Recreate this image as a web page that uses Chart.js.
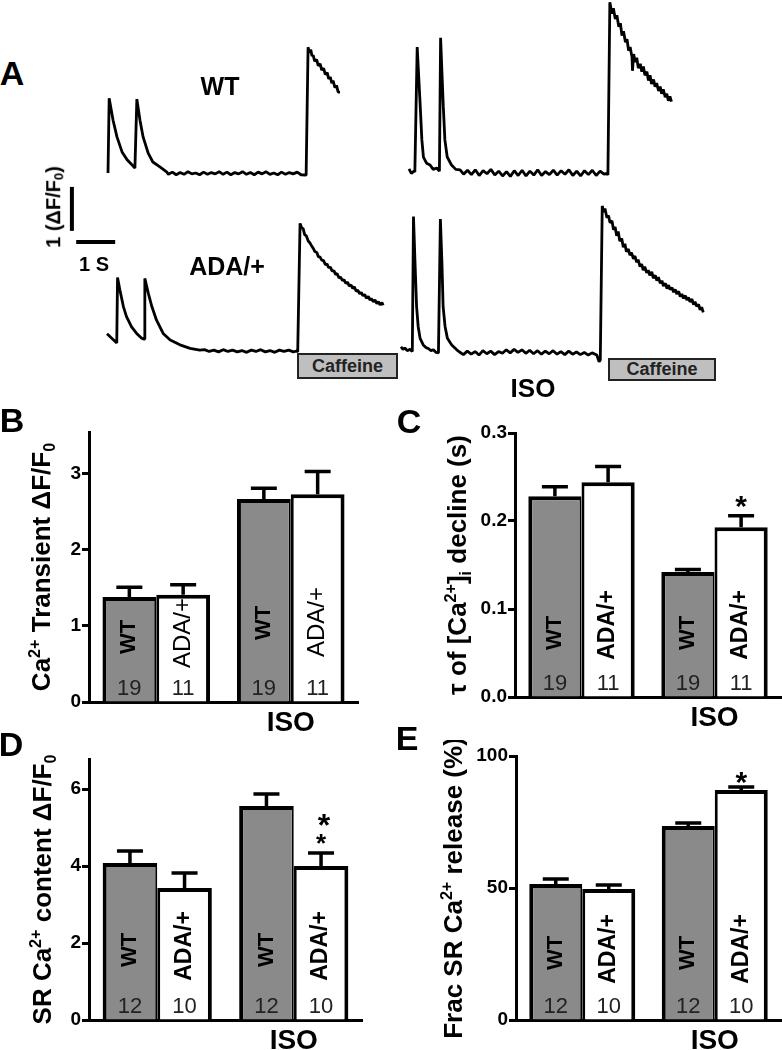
<!DOCTYPE html>
<html lang="en">
<head>
<meta charset="UTF-8">
<title>Ca2+ transients WT vs ADA/+</title>
<script src="https://cdn.jsdelivr.net/npm/chart.js"></script>
<style>
  body { margin: 0; background: #fff; }
  #page { position: relative; width: 782px; height: 1050px; overflow: hidden; font-family: "Liberation Sans", Arial, sans-serif; }
  canvas { position: absolute; }
  .t { position: absolute; transform: translate(-50%, -50%); white-space: nowrap; font-weight: bold; line-height: 1; color: #000; }
  .t sub { font-size: 0.65em; vertical-align: -0.2em; }
  .letter { font-size: 34px; }
  .caff { position: absolute; background: #bfbfbf; border: 2px solid #222; box-sizing: border-box; font-weight: bold; font-size: 18px; color: #222; text-align: center; }
</style>
</head>
<body>
<div id="page">
  <canvas id="trWT" width="260" height="160" style="left:95px;top:30px"></canvas>
  <canvas id="trWTiso" width="300" height="190" style="left:395px;top:0px"></canvas>
  <canvas id="trADA" width="335" height="185" style="left:60px;top:180px"></canvas>
  <canvas id="trADAiso" width="320" height="180" style="left:395px;top:195px"></canvas>

  <canvas id="panelB" width="372" height="330" style="left:0px;top:415px"></canvas>
  <canvas id="panelC" width="392" height="330" style="left:390px;top:415px"></canvas>
  <canvas id="panelD" width="372" height="310" style="left:0px;top:740px"></canvas>
  <canvas id="panelE" width="392" height="310" style="left:390px;top:740px"></canvas>

  <div class="t letter" style="left:12px;top:73px">A</div>
  <div class="t letter" style="left:12px;top:420px">B</div>
  <div class="t letter" style="left:409px;top:421px">C</div>
  <div class="t letter" style="left:11px;top:744px">D</div>
  <div class="t letter" style="left:407px;top:738px">E</div>

  <div class="t" style="left:220px;top:86px;font-size:25px">WT</div>
  <div class="t" style="left:227px;top:266px;font-size:25px">ADA/+</div>
  <div class="t" style="left:533px;top:388px;font-size:26px">ISO</div>
  <div class="t" style="left:94px;top:264px;font-size:20px">1 S</div>
  <div class="t" style="left:54px;top:207px;font-size:20px;transform:translate(-50%,-50%) rotate(-90deg)">1 (&Delta;F/F<sub>0</sub>)</div>

  <div class="caff" style="left:297px;top:353px;width:101px;height:26px;line-height:22px">Caffeine</div>
  <div class="caff" style="left:608px;top:358px;width:108px;height:23px;line-height:19px">Caffeine</div>
</div>

<script>
// ---- panel A traces: [time (s), deltaF/F0] ----
const wtTrace = [[0,0],[0.03,1.70],[0.13,1.20],[0.23,0.82],[0.36,0.48],[0.49,0.30],[0.62,0.18],[0.69,0.11],
  [0.74,1.68],[0.82,1.20],[0.90,0.82],[1.03,0.45],[1.15,0.25],[1.33,0.14],[1.51,0.02],
  [1.55,-0.03],[1.65,0.02],[1.75,-0.04],[1.85,0.01],[1.95,-0.03],[2.05,0.03],[2.15,-0.02],[2.25,0.00],[2.35,-0.04],[2.45,0.02],
  [2.55,-0.03],[2.65,0.01],[2.75,-0.02],[2.85,0.03],[2.95,-0.03],[3.05,0.02],[3.15,-0.04],[3.25,0.01],[3.35,-0.02],[3.45,0.03],
  [3.55,-0.03],[3.65,0.01],[3.75,-0.04],[3.85,0.02],[3.95,-0.02],[4.05,0.03],[4.15,-0.03],[4.25,0.00],[4.35,-0.04],[4.45,0.02],
  [4.55,-0.03],[4.65,0.01],[4.75,-0.02],[4.85,0.02],[4.95,-0.04],[5.08,-0.05],
  [5.13,2.86],[5.16,2.74],[5.2,2.80],[5.23,2.66],[5.26,2.68],[5.3,2.54],[5.35,2.58],[5.39,2.44],[5.44,2.48],[5.48,2.34],
  [5.53,2.38],[5.57,2.24],[5.62,2.28],[5.66,2.14],[5.7,2.18],[5.74,2.04],[5.77,2.1],[5.82,1.94],[5.86,1.99],[5.9,1.84],[5.95,1.84]];

const wtIsoTrace = [[0,0.07],[0.06,-0.03],[0.13,0.02],[0.15,0.00],[0.21,2.84],[0.28,1.64],[0.33,0.73],[0.37,0.34],[0.45,0.20],
  [0.54,0.16],[0.62,0.06],[0.71,0.09],[0.78,0.02],[0.81,3.05],[0.88,1.48],[0.92,0.73],[0.98,0.34],[1.09,0.16],[1.2,0.06],
  [1.31,0.05],[1.4,-0.05],[1.5,0.04],[1.6,-0.06],[1.7,0.05],[1.8,-0.08],[1.9,0.03],[2.0,-0.04],[2.1,0.06],[2.2,-0.07],[2.3,0.02],
  [2.4,-0.09],[2.5,0.01],[2.6,-0.1],[2.7,0.03],[2.8,-0.08],[2.9,0.04],[3.0,-0.09],[3.1,0.02],[3.2,-0.07],[3.3,0.05],[3.4,-0.08],
  [3.5,0.01],[3.6,-0.06],[3.7,0.04],[3.8,-0.07],[3.9,0.03],[4.0,-0.05],[4.1,0.05],[4.2,-0.08],[4.3,0.02],[4.4,-0.09],[4.5,0.03],
  [4.6,-0.06],[4.7,0.04],[4.8,-0.08],[4.9,0.02],[5.0,-0.05],[5.08,-0.03],[5.10,-0.07],
  [5.15,3.86],[5.2,3.6],[5.24,3.72],[5.29,3.48],[5.33,3.56],[5.38,3.3],[5.42,3.38],[5.46,3.1],[5.5,3.2],[5.55,2.95],[5.59,3.02],
  [5.63,2.76],[5.67,2.84],[5.72,2.6],[5.73,2.3],[5.76,2.68],[5.8,2.5],[5.84,2.6],[5.88,2.36],[5.93,2.46],[5.97,2.28],[6.01,2.4],
  [6.05,2.2],[6.1,2.28],[6.14,2.08],[6.18,2.2],[6.22,2.0],[6.27,2.1],[6.31,1.94],[6.35,2.02],[6.4,1.84],[6.44,1.94],[6.48,1.78],
  [6.52,1.88],[6.57,1.7],[6.61,1.78],[6.65,1.62],[6.69,1.72],[6.73,1.6]];

const adaTrace = [[0,0.39],[0.25,0.18],[0.27,1.67],[0.33,1.39],[0.42,1.01],[0.50,0.78],[0.63,0.55],[0.76,0.40],[0.89,0.29],
  [0.95,0.27],[0.97,1.65],[1.06,1.31],[1.15,1.01],[1.27,0.70],[1.44,0.40],[1.62,0.25],[1.87,0.14],[2.13,0.06],[2.38,0.02],
  [2.5,0.03],[2.62,-0.01],[2.74,0.02],[2.86,-0.02],[2.98,0.03],[3.1,-0.01],[3.22,0.02],[3.34,-0.02],[3.46,0.01],[3.58,-0.03],
  [3.7,0.02],[3.82,-0.01],[3.94,0.03],[4.06,-0.02],[4.18,0.01],[4.3,-0.03],[4.42,0.02],[4.54,-0.01],[4.66,0.02],[4.78,-0.02],
  [4.86,0.00],[4.89,-0.02],
  [4.95,2.90],[4.99,2.80],[5.03,2.78],[5.07,2.64],[5.11,2.62],[5.16,2.50],[5.2,2.46],[5.24,2.40],[5.29,2.33],[5.33,2.26],
  [5.38,2.24],[5.42,2.14],[5.46,2.14],[5.51,2.06],[5.55,2.06],[5.6,1.96],[5.64,1.98],[5.68,1.90],[5.73,1.90],[5.77,1.82],
  [5.82,1.82],[5.86,1.74],[5.9,1.76],[5.95,1.66],[5.99,1.68],[6.04,1.6],[6.08,1.62],[6.12,1.54],[6.17,1.56],[6.21,1.48],
  [6.26,1.50],[6.3,1.42],[6.34,1.46],[6.39,1.36],[6.43,1.38],[6.48,1.30],[6.52,1.33],[6.56,1.26],[6.61,1.28],[6.65,1.20],
  [6.7,1.24],[6.74,1.16],[6.78,1.19],[6.83,1.12],[6.87,1.16],[6.92,1.08],[6.96,1.12],[7.0,1.05],[7.05,1.10],[7.08,1.04]];

const adaIsoTrace = [[0,0.12],[0.05,0.06],[0.10,0.09],[0.16,0.03],[0.23,0.06],[0.29,0.01],[0.32,3.08],[0.36,2.02],[0.40,1.03],
  [0.44,0.58],[0.49,0.31],[0.57,0.16],[0.64,0.10],[0.70,0.08],[0.77,0.03],[0.83,0.05],[0.90,-0.01],[0.96,-0.02],[1.01,3.02],
  [1.05,2.02],[1.08,1.03],[1.13,0.58],[1.19,0.31],[1.30,0.16],[1.43,0.05],[1.50,0.00],
  [1.6,-0.06],[1.7,0.02],[1.8,-0.05],[1.9,0.01],[2.0,-0.07],[2.1,0.03],[2.2,-0.04],[2.3,0.02],[2.4,-0.06],[2.5,0.01],
  [2.6,-0.03],[2.7,0.05],[2.8,-0.02],[2.9,0.06],[3.0,-0.01],[3.1,0.05],[3.2,-0.03],[3.3,0.04],[3.4,-0.04],[3.5,0.03],
  [3.6,-0.05],[3.7,0.02],[3.8,-0.04],[3.9,0.03],[4.0,-0.05],[4.1,0.01],[4.2,-0.06],[4.3,0.02],[4.4,-0.05],[4.5,0.00],
  [4.6,-0.06],[4.7,-0.01],[4.8,-0.07],[4.9,-0.02],[5.02,-0.07],[5.08,-0.22],[5.11,-0.18],
  [5.16,3.32],[5.2,3.18],[5.23,3.26],[5.28,3.05],[5.32,3.1],[5.36,2.94],[5.41,2.98],[5.45,2.78],[5.49,2.84],[5.53,2.64],
  [5.57,2.74],[5.61,2.52],[5.66,2.58],[5.7,2.38],[5.74,2.46],[5.78,2.28],[5.83,2.34],[5.87,2.2],[5.91,2.26],[5.96,2.12],
  [6.0,2.18],[6.04,2.04],[6.08,2.1],[6.13,1.94],[6.17,2.0],[6.21,1.86],[6.25,1.94],[6.3,1.8],[6.34,1.86],[6.38,1.74],
  [6.43,1.82],[6.47,1.68],[6.52,1.74],[6.56,1.62],[6.6,1.7],[6.65,1.56],[6.69,1.62],[6.73,1.5],[6.78,1.56],[6.82,1.44],
  [6.86,1.52],[6.9,1.42],[6.95,1.46],[6.99,1.36],[7.03,1.42],[7.07,1.32],[7.12,1.38],[7.16,1.26],[7.2,1.32],[7.24,1.22],
  [7.29,1.28],[7.33,1.18],[7.37,1.24],[7.41,1.14],[7.46,1.2],[7.5,1.08],[7.54,1.14],[7.58,1.04],[7.63,1.08],[7.67,0.96],
  [7.71,1.02],[7.75,0.9]];

// scale bar: 1 deltaF/F0 vertical, 1 s horizontal
const scaleBarV = [[-0.9, 2.73], [-0.9, 3.73]];
const scaleBarH = [[-0.79, 2.48], [0.21, 2.48]];

// ---- panels B-E ----
const groups = ['', 'ISO'];

const transientWT = [1.38, 2.67];
const transientWTsem = [0.13, 0.14];
const transientADA = [1.41, 2.73];
const transientADAsem = [0.13, 0.30];
const cellsBC = [19, 11];

const tauWT = [0.228, 0.142];
const tauWTsem = [0.011, 0.003];
const tauADA = [0.244, 0.193];
const tauADAsem = [0.018, 0.013];

const srWT = [4.08, 5.56];
const srWTsem = [0.31, 0.31];
const srADA = [3.43, 4.00];
const srADAsem = [0.39, 0.34];
const cellsDE = [12, 10];

const fracWT = [51.5, 73.5];
const fracWTsem = [1.9, 1.1];
const fracADA = [49.6, 87.1];
const fracADAsem = [1.5, 1.2];

const ticksB = [0, 1, 2, 3];
const ticksC = [0, 0.1, 0.2, 0.3];
const ticksD = [0, 2, 4, 6];
const ticksE = [0, 50, 100];

const FONT = '"Liberation Sans", Arial, sans-serif';
Chart.defaults.font.family = FONT;
Chart.defaults.color = '#000';

const PX_S = 39;  // pixels per second
const PX_F = 44;  // pixels per deltaF/F0 unit

function traceChart(id, x0, y0, sets) {
  const cv = document.getElementById(id);
  new Chart(cv, {
    type: 'line',
    data: {
      datasets: sets.map(s => ({
        data: s.pts.map(p => ({ x: p[0], y: p[1] })),
        borderColor: '#000', borderWidth: s.w, pointRadius: 0, tension: 0,
        fill: false, clip: false, borderJoinStyle: 'bevel'
      }))
    },
    options: {
      responsive: false, animation: false, events: [],
      layout: { padding: 0 },
      plugins: { legend: { display: false }, tooltip: { enabled: false } },
      scales: {
        x: { type: 'linear', display: false, min: -x0 / PX_S, max: (cv.width - x0) / PX_S },
        y: { type: 'linear', display: false, min: -(cv.height - y0) / PX_F, max: y0 / PX_F }
      }
    }
  });
}

traceChart('trWT', 13, 143, [{ pts: wtTrace, w: 2.8 }]);
traceChart('trWTiso', 14, 172, [{ pts: wtIsoTrace, w: 2.8 }]);
traceChart('trADA', 47, 171, [{ pts: adaTrace, w: 2.8 }, { pts: scaleBarV, w: 4 }, { pts: scaleBarH, w: 4 }]);
traceChart('trADAiso', 6, 157, [{ pts: adaIsoTrace, w: 2.8 }]);

// axis title with super/subscripts, rotated to read bottom to top
function richTitle(ctx, parts, size, x, cy) {
  ctx.save();
  ctx.translate(x, cy);
  ctx.rotate(-Math.PI / 2);
  ctx.fillStyle = '#000';
  ctx.textBaseline = 'alphabetic';
  ctx.textAlign = 'left';
  let total = 0;
  const runs = parts.map(p => {
    const s = p[1] ? size * 0.62 : size;
    ctx.font = 'bold ' + s + 'px ' + FONT;
    const w = ctx.measureText(p[0]).width;
    total += w;
    return { text: p[0], s, w, dy: p[1] === 'sup' ? -size * 0.4 : p[1] === 'sub' ? size * 0.18 : 0 };
  });
  let cx = -total / 2;
  runs.forEach(r => {
    ctx.font = 'bold ' + r.s + 'px ' + FONT;
    ctx.fillText(r.text, cx, r.dy);
    cx += r.w;
  });
  ctx.restore();
}

function makeDeco(p) {
  return {
    id: 'deco',
    afterDraw(chart) {
      const ctx = chart.ctx, y = chart.scales.y, area = chart.chartArea;
      const base = y.getPixelForValue(0);
      const sets = [[p.wt, p.wtSem, 'WT', p.wtFont], [p.ada, p.adaSem, 'ADA/+', p.adaFont]];
      sets.forEach(([vals, sems, name, font], di) => {
        chart.getDatasetMeta(di).data.forEach((bar, j) => {
          const top = y.getPixelForValue(vals[j]);
          const eTop = y.getPixelForValue(vals[j] + sems[j]);
          ctx.save();
          ctx.strokeStyle = '#000';
          ctx.lineWidth = 3.5;
          ctx.beginPath();
          ctx.moveTo(bar.x, top);
          ctx.lineTo(bar.x, eTop);
          ctx.moveTo(bar.x - 13, eTop);
          ctx.lineTo(bar.x + 13, eTop);
          ctx.stroke();

          ctx.fillStyle = '#000';
          ctx.textAlign = 'center';
          ctx.textBaseline = 'middle';
          ctx.save();
          ctx.translate(bar.x, base - p.rise[di][j]);
          ctx.rotate(-Math.PI / 2);
          ctx.font = font;
          ctx.fillText(name, 0, 0);
          ctx.restore();

          ctx.fillStyle = '#222';
          ctx.font = '22px ' + FONT;
          ctx.fillText(String(p.n[di]), bar.x, base - 13);
          ctx.restore();
        });
      });

      // significance stars over ADA/+ ISO
      (p.stars || []).forEach(s => {
        const bar = chart.getDatasetMeta(1).data[1];
        const eTop = y.getPixelForValue(p.ada[1] + p.adaSem[1]);
        ctx.save();
        ctx.fillStyle = '#000';
        ctx.font = 'bold ' + s.size + 'px ' + FONT;
        ctx.textAlign = 'center';
        ctx.textBaseline = 'alphabetic';
        const m = ctx.measureText('*');
        const baseLine = eTop - s.off + (m.actualBoundingBoxAscent - m.actualBoundingBoxDescent) / 2;
        ctx.fillText('*', bar.x + (s.dx || 0), baseLine);
        ctx.restore();
      });

      richTitle(ctx, p.title, 26, p.titleX, (area.top + area.bottom) / 2);
    }
  };
}

function barPanel(id, p) {
  const cv = document.getElementById(id);
  new Chart(cv, {
    type: 'bar',
    data: {
      labels: groups,
      datasets: [
        { label: 'WT', data: p.wt, backgroundColor: '#8a8a8a', borderColor: '#000',
          borderWidth: { top: 4, left: 4, right: 2, bottom: 0 }, borderSkipped: 'start',
          categoryPercentage: 0.8, barPercentage: 1 },
        { label: 'ADA/+', data: p.ada, backgroundColor: '#fff', borderColor: '#000',
          borderWidth: { top: 4, left: 3, right: 4, bottom: 0 }, borderSkipped: 'start',
          categoryPercentage: 0.8, barPercentage: 1 }
      ]
    },
    options: {
      responsive: false, animation: false, events: [],
      layout: { padding: { top: p.area.top, right: cv.width - p.area.right, left: 0, bottom: 0 } },
      plugins: { legend: { display: false }, tooltip: { enabled: false } },
      scales: {
        x: {
          z: 1,
          grid: { display: false, drawTicks: false },
          border: { display: true, color: '#000', width: 3 },
          ticks: { font: { size: 28, weight: 'bold' }, color: '#000', padding: 4 },
          afterFit: s => { s.height = cv.height - p.area.bottom; }
        },
        y: {
          z: 1, min: 0, max: p.max,
          grid: { display: true, drawOnChartArea: false, drawTicks: true, tickLength: 7, tickWidth: 3, tickColor: '#000' },
          border: { display: true, color: '#000', width: 3 },
          ticks: { font: { size: 19, weight: 'bold' }, color: '#000', padding: 1,
                   callback: v => Number(v).toFixed(p.dec) },
          afterBuildTicks: s => { s.ticks = p.ticks.map(v => ({ value: v })); },
          afterFit: s => { s.width = p.area.left; }
        }
      }
    },
    plugins: [makeDeco(p)]
  });
}

const wtLab = 'bold 22px ' + FONT;
const adaLab = 'bold 23px ' + FONT;

barPanel('panelB', {
  wt: transientWT, wtSem: transientWTsem, ada: transientADA, adaSem: transientADAsem, n: cellsBC,
  ticks: ticksB, max: 3.55, dec: 0,
  area: { left: 89, top: 17, right: 358, bottom: 287 },
  rise: [[65, 79], [69, 80]], wtFont: wtLab, adaFont: '24px ' + FONT,
  title: [['Ca'], ['2+', 'sup'], [' Transient \u0394F/F'], ['0', 'sub']], titleX: 50
});

barPanel('panelC', {
  wt: tauWT, wtSem: tauWTsem, ada: tauADA, adaSem: tauADAsem, n: cellsBC,
  ticks: ticksC, max: 0.3, dec: 1,
  area: { left: 125, top: 18, right: 391, bottom: 282 },
  rise: [[64, 64], [72, 72]], wtFont: wtLab, adaFont: adaLab,
  stars: [{ off: 14, size: 30 }],
  title: [['\u03C4 of [Ca'], ['2+', 'sup'], [']'], ['i', 'sub'], [' decline (s)']], titleX: 76
});

barPanel('panelD', {
  wt: srWT, wtSem: srWTsem, ada: srADA, adaSem: srADAsem, n: cellsDE,
  ticks: ticksD, max: 6.78, dec: 0,
  area: { left: 89, top: 19, right: 362, bottom: 280 },
  rise: [[70, 70], [74, 74]], wtFont: wtLab, adaFont: adaLab,
  stars: [{ off: 14, size: 26, dx: 0 }, { off: 33, size: 32, dx: 3 }],
  title: [['SR Ca'], ['2+', 'sup'], [' content \u0394F/F'], ['0', 'sub']], titleX: 51
});

barPanel('panelE', {
  wt: fracWT, wtSem: fracWTsem, ada: fracADA, adaSem: fracADAsem, n: cellsDE,
  ticks: ticksE, max: 100, dec: 0,
  area: { left: 126, top: 16, right: 391, bottom: 280 },
  rise: [[67, 67], [71, 71]], wtFont: wtLab, adaFont: adaLab,
  stars: [{ off: 9, size: 30 }],
  title: [['Frac SR Ca'], ['2+', 'sup'], [' release (%)']], titleX: 72
});
</script>
</body>
</html>
